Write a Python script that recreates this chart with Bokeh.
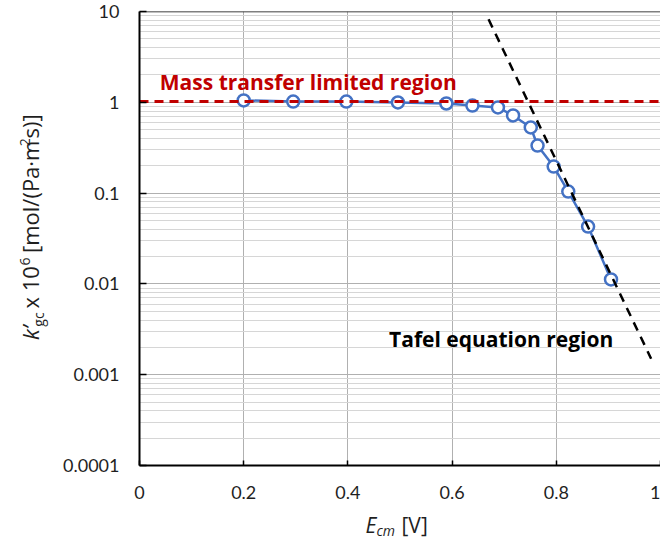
import numpy as np
from bokeh.plotting import figure
from bokeh.layouts import row, column
from bokeh.models import Label, Span, FixedTicker, CustomJSTickFormatter
from bokeh.embed import file_html
from bokeh.resources import INLINE

# ---------------- data ----------------
e_cm = [0.200, 0.295, 0.397, 0.496, 0.589, 0.639, 0.688, 0.717, 0.751, 0.764, 0.795, 0.823, 0.861, 0.905]
k_gc = [1.05, 1.02, 1.02, 0.995, 0.97, 0.92, 0.877, 0.716, 0.528, 0.334, 0.196, 0.104, 0.0428, 0.0112]

mass_transfer_x = [0.0, 1.0]
mass_transfer_y = [1.02, 1.02]

tafel_x = [0.670, 0.982]
tafel_y = [8.2, 0.0015]

x_ticks = [0.0, 0.2, 0.4, 0.6, 0.8, 1.0]
x_tick_labels = ["0", "0.2", "0.4", "0.6", "0.8", "1"]
y_ticks = [0.0001, 0.001, 0.01, 0.1, 1.0, 10.0]
y_tick_labels = ["0.0001", "0.001", "0.01", "0.1", "1", "10"]

mass_label = "Mass transfer limited region"
tafel_label = "Tafel equation region"

# ---------------- layout ----------------
TICK_FONT = "Lato"
FONT = "Open Sans"
TEXT = "#1f1f1f"
YT_W = 60                      # width of the y-title strip
MAIN_W, MAIN_H = 600, 510
XT_H = 36                      # height of the x-title strip
X0, X1 = 0.0, 1.0
Y0, Y1 = 1e-4, 10.0
F_TOP, F_BOTTOM = 11, 465      # frame top / bottom in page pixels
BASE_K = 0.38                  # label anchor offset (fraction of font size)


def page_y(yp):
    l0, l1 = np.log10(Y0), np.log10(Y1)
    return 10 ** (l1 - (yp - F_TOP) / (F_BOTTOM - F_TOP) * (l1 - l0))


p = figure(width=MAIN_W, height=MAIN_H, x_range=(X0, X1), y_range=(Y0, Y1),
           y_axis_type="log", output_backend="svg", toolbar_location=None,
           min_border_left=135 - YT_W, min_border_right=0, min_border_top=F_TOP,
           min_border_bottom=MAIN_H - F_BOTTOM)
p.outline_line_color = None
p.background_fill_color = "white"
p.border_fill_color = "white"


def fmt(vals, labels):
    return CustomJSTickFormatter(args=dict(tvals=vals, tlabels=labels), code="""
        for (let i = 0; i < tvals.length; i++) {
            if (Math.abs(tvals[i] - tick) <= 1e-9 * Math.max(1e-6, Math.abs(tvals[i]))) return tlabels[i];
        }
        return "";
    """)


minor = [m * 10.0 ** e for e in range(-4, 1) for m in range(2, 10)]
xt = FixedTicker(ticks=x_ticks)
yt = FixedTicker(ticks=y_ticks, minor_ticks=minor)
p.xaxis.ticker = xt
p.yaxis.ticker = yt
p.xgrid.ticker = xt
p.ygrid.ticker = yt
p.xaxis.formatter = fmt(x_ticks, x_tick_labels)
p.yaxis.formatter = fmt(y_ticks, y_tick_labels)

for ax in (p.xaxis[0], p.yaxis[0]):
    ax.axis_line_color = "black"
    ax.axis_line_width = 2
    ax.major_tick_line_color = "black"
    ax.major_tick_line_width = 1.5
    ax.major_tick_out = 0
    ax.minor_tick_line_color = None
    ax.major_label_text_font = TICK_FONT
    ax.major_label_text_font_size = "18px"
    ax.major_label_text_color = TEXT
p.xaxis.major_tick_in = 5
p.yaxis.major_tick_in = 7
p.xaxis.major_label_standoff = 20
p.yaxis.major_label_standoff = 16

p.xgrid.grid_line_color = "#b0b0b0"
p.xgrid.grid_line_width = 1
p.ygrid.grid_line_color = "#b0b0b0"
p.ygrid.grid_line_width = 1
p.ygrid.minor_grid_line_color = "#d6d6d6"
p.ygrid.minor_grid_line_width = 1

p.add_layout(Span(location=Y1, dimension="width", line_color="black", line_width=1.5))

# ---------------- glyphs ----------------
p.line(e_cm, k_gc, line_color="#4472C4", line_width=2.5)
p.scatter(e_cm, k_gc, marker="circle", size=12, fill_color="white",
          line_color="#4472C4", line_width=2.5)
p.line(mass_transfer_x, mass_transfer_y, line_color="#C00000", line_width=3, line_dash="9 6")
p.line(tafel_x, tafel_y, line_color="black", line_width=2.5, line_dash="9 7")

# ---------------- in-plot annotations (left edge, baseline in page px) ----------------
ANN = 21
p.add_layout(Label(x=0.039, y=page_y(89 - BASE_K * ANN), text=mass_label, text_font=FONT,
                   text_font_style="bold", text_font_size=f"{ANN}px",
                   text_color="#C00000", text_baseline="alphabetic"))
p.add_layout(Label(x=0.479, y=page_y(346 - BASE_K * ANN), text=tafel_label, text_font=FONT,
                   text_font_style="bold", text_font_size=f"{ANN}px",
                   text_color="black", text_baseline="alphabetic"))


def strip(w, h):
    f = figure(width=w, height=h, x_range=(0, w), y_range=(0, h),
               output_backend="svg", toolbar_location=None,
               x_axis_location=None, y_axis_location=None, min_border=0,
               min_border_left=0, min_border_right=0, min_border_top=0,
               min_border_bottom=0)
    f.outline_line_color = None
    f.background_fill_color = "white"
    f.border_fill_color = "white"
    f.xgrid.visible = False
    f.ygrid.visible = False
    return f


# ---------------- y-axis title (rotated, pieces chained bottom -> top) ----------------
yt_fig = strip(YT_W, MAIN_H)
S, s = 22, 14
SPACE = 0.26 * S
# (text, style, size, baseline x in page px, gap before in px, advance in px)
y_pieces = [
    ("k’", "italic", S, 38, 0, 0.68 * S),
    ("gc", "normal", s, 43, 0, 1.05 * s),
    ("x 10", "normal", S, 38, SPACE, 2.19 * S),
    ("6", "normal", s, 30, 0, 0.60 * s),
    ("[mol/(Pa·m", "normal", S, 38, SPACE, 5.45 * S),
    ("2", "normal", s, 30, 0, 0.62 * s),
    ("s)]", "normal", S, 38, 0, 1.07 * S),
]
cur = 369.0  # page y of the bottom end of the title
for txt, style, size, bx, gap, adv in y_pieces:
    cur -= gap
    yt_fig.add_layout(Label(x=bx - BASE_K * size, y=MAIN_H - cur, text=txt, angle=np.pi / 2,
                            text_font=FONT, text_font_style=style,
                            text_font_size=f"{size}px", text_color=TEXT,
                            text_align="left", text_baseline="alphabetic"))
    cur -= adv

# ---------------- x-axis title ----------------
xt_fig = strip(YT_W + MAIN_W, XT_H)
x_pieces = [
    ("E", "italic", 21, 365, 532),
    ("cm", "italic", 14, 376, 535),
    ("[V]", "normal", 21, 401, 532),
]
for txt, style, size, xp, yp in x_pieces:
    xt_fig.add_layout(Label(x=xp, y=MAIN_H + XT_H - (yp - BASE_K * size), text=txt,
                            text_font=FONT, text_font_style=style,
                            text_font_size=f"{size}px", text_color=TEXT,
                            text_align="left", text_baseline="alphabetic"))

layout = column(row(yt_fig, p, spacing=0), xt_fig, spacing=0)
open("out.html", "w").write(file_html(layout, INLINE))
